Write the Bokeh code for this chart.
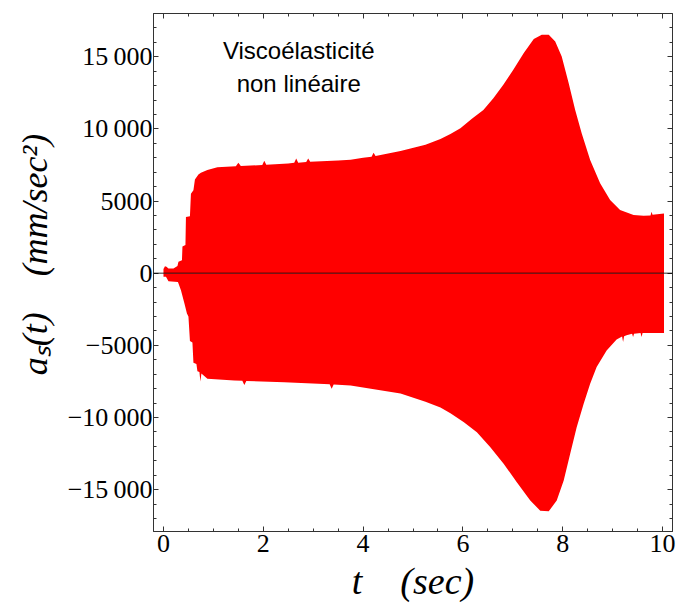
from bokeh.plotting import figure
from bokeh.models import Range1d, FixedTicker, LinearAxis, Span, Label
from bokeh.embed import file_html
from bokeh.resources import INLINE

# Upper envelope of the (dense) oscillating response a_s(t)
t_upper = [0.00, 0.03, 0.06, 0.10, 0.20, 0.28, 0.30, 0.37, 0.38, 0.44, 0.45, 0.53, 0.55, 0.60,
           0.63, 0.70, 0.75, 0.88, 1.08, 1.45, 1.50, 1.55, 1.75, 1.98, 2.02, 2.06, 2.50, 2.62,
           2.66, 2.70, 2.86, 2.90, 2.94, 3.50, 3.75, 4.00, 4.17, 4.21, 4.25, 4.75, 5.25, 5.55,
           5.75, 5.95, 6.18, 6.41, 6.61, 6.81, 7.01, 7.22, 7.42, 7.58, 7.72, 7.85, 7.98, 8.12,
           8.25, 8.38, 8.55, 8.75, 8.95, 9.15, 9.42, 9.62, 9.76, 9.78, 9.80, 10.03]
a_upper = [300, 480, 450, 330, 330, 500, 800, 900, 1850, 1950, 3900, 3950, 5500, 5750,
           6500, 6850, 6970, 7150, 7340, 7420, 7650, 7430, 7460, 7500, 7800, 7520, 7600, 7650,
           7950, 7650, 7700, 7950, 7720, 7820, 7870, 8000, 8080, 8350, 8120, 8470, 8900, 9300,
           9650, 10050, 10700, 11320, 12130, 13060, 14100, 15260, 16230, 16530, 16530, 16060, 15020, 13170,
           11320, 9700, 7850, 6230, 5070, 4375, 4030, 3980, 4000, 4260, 4050, 4145]

# Lower envelope
t_lower = [0.00, 0.05, 0.10, 0.29, 0.35, 0.42, 0.47, 0.50, 0.53, 0.58, 0.60, 0.66, 0.68, 0.72,
           0.74, 0.76, 0.88, 1.42, 1.58, 1.62, 1.66, 2.42, 3.33, 3.37, 3.41, 3.75, 4.75, 5.25,
           5.55, 5.75, 6.02, 6.28, 6.55, 6.82, 7.08, 7.35, 7.55, 7.72, 7.88, 8.02, 8.15, 8.28,
           8.42, 8.55, 8.68, 8.88, 9.08, 9.19, 9.21, 9.23, 9.28, 9.39, 9.41, 9.43, 9.56, 9.58,
           9.60, 10.03]
a_lower = [-250, -250, -550, -600, -1180, -2100, -2800, -3000, -4700, -4800, -6200, -6300, -6800, -6850,
           -7500, -6950, -7310, -7430, -7450, -7750, -7470, -7550, -7700, -8000, -7720, -7780, -8330, -8900,
           -9300, -9700, -10320, -11020, -12060, -13220, -14490, -15760, -16460, -16500, -15760, -14370, -12520, -10670,
           -9050, -7660, -6500, -5350, -4600, -4380, -4770, -4360, -4300, -4200, -4420, -4190, -4150, -4420,
           -4150, -4140]

x_tick_values = [0, 2, 4, 6, 8, 10]
x_minor_values = [0.5 * i for i in range(0, 21)]
y_tick_values = [-15000, -10000, -5000, 0, 5000, 10000, 15000]
y_tick_labels = ["\u221215\u2009000", "\u221210\u2009000", "\u22125000", "0", "5000", "10\u2009000", "15\u2009000"]
y_minor_values = list(range(-17000, 18000, 1000))

annotation_text = "Viscoélasticité\nnon linéaire"
x_label = "t\u2003(sec)"
y_label = "\u2003a\u209b(t)\u2003(mm/sec\u00b2)"

FRAME = "#333333"
SERIF = "Liberation Serif"

p = figure(width=678, height=614, output_backend="svg", toolbar_location=None,
           x_range=Range1d(-0.2, 10.2), y_range=Range1d(-17900, 18000),
           min_border_left=153, min_border_right=6, min_border_top=13, min_border_bottom=83)
p.grid.visible = False
p.outline_line_color = FRAME
p.outline_line_width = 1
p.background_fill_color = "white"
p.border_fill_color = "white"

p.varea(x=t_upper, y1=0, y2=a_upper, fill_color="#ff0000")
p.varea(x=t_lower, y1=a_lower, y2=0, fill_color="#ff0000")

p.add_layout(Span(location=0, dimension="width", line_color="black", line_alpha=0.55, line_width=1.5))

xt = FixedTicker(ticks=x_tick_values, minor_ticks=x_minor_values)
yt = FixedTicker(ticks=y_tick_values, minor_ticks=y_minor_values)


def style(ax):
    ax.axis_line_color = FRAME
    ax.major_tick_line_color = FRAME
    ax.minor_tick_line_color = FRAME
    ax.major_tick_in = 5
    ax.major_tick_out = 0
    ax.minor_tick_in = 3
    ax.minor_tick_out = 0
    ax.major_label_text_font = SERIF
    ax.major_label_text_font_size = "26px"
    ax.major_label_text_color = "black"
    ax.axis_label_text_font = SERIF
    ax.axis_label_text_font_style = "italic"
    ax.axis_label_text_color = "black"


xa = p.xaxis[0]
xa.ticker = xt
style(xa)
xa.major_label_standoff = 3
xa.axis_label = x_label
xa.axis_label_text_font_size = "38px"
xa.axis_label_standoff = 5

ya = p.yaxis[0]
ya.ticker = yt
style(ya)
ya.major_label_overrides = {v: s for v, s in zip(y_tick_values, y_tick_labels)}
ya.major_label_standoff = 1
ya.axis_label = y_label
ya.axis_label_text_font_size = "36px"
ya.axis_label_standoff = 10

# tick marks on the top and right sides of the frame (no labels)
for loc, tk in (("above", xt), ("right", yt)):
    ax = LinearAxis(ticker=tk)
    style(ax)
    ax.major_label_text_color = None
    ax.major_label_text_font_size = "1px"
    ax.major_label_standoff = 0
    p.add_layout(ax, loc)

p.add_layout(Label(x=2.71, y=16350, text=annotation_text, text_align="center", text_baseline="top",
                   text_font="Liberation Sans", text_font_size="24px", text_line_height=1.22,
                   text_color="black"))

open("out.html", "w").write(file_html(p, INLINE))
